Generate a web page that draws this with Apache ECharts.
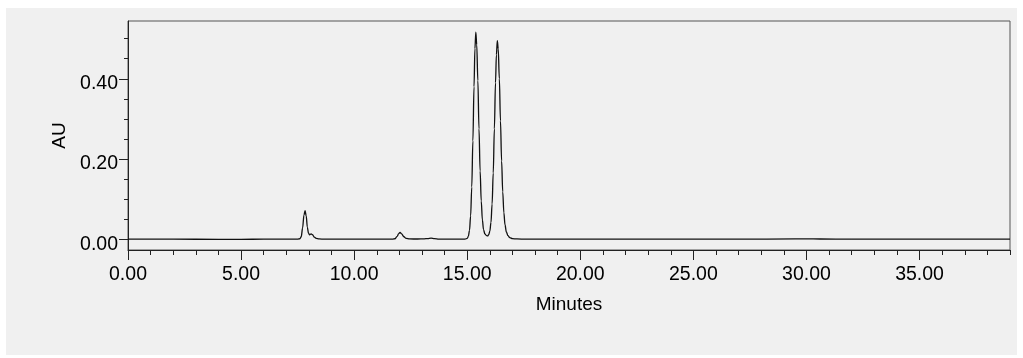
<!DOCTYPE html>
<html>
<head>
<meta charset="utf-8">
<script src="https://cdn.jsdelivr.net/npm/echarts@6/dist/echarts.min.js"></script>
<style>
html,body{margin:0;padding:0;background:#ffffff;width:1023px;height:358px;overflow:hidden;}
#panel{position:absolute;left:6px;top:8px;width:1011px;height:347px;background:#f0f0f0;}
#chart{width:1011px;height:347px;}
</style>
</head>
<body>
<div id="panel"><div id="chart"></div></div>
<script>
// Retention time (minutes)
const minutes = [
  0, 2, 4, 5, 6, 7, 7.5, 7.6, 7.66, 7.72, 7.78, 7.83, 7.88, 7.93, 7.98, 8.03, 8.1, 8.16, 8.24, 8.32, 8.45, 8.7,
  9.5, 10.5, 11.2, 11.7, 11.8, 11.9, 11.97, 12.03, 12.1, 12.2, 12.3, 12.45, 12.8, 13.1, 13.25, 13.4, 13.55, 13.75, 14.1, 14.6,
  14.9, 15.0, 15.05, 15.1, 15.15, 15.2, 15.25, 15.3, 15.34, 15.38, 15.42, 15.47, 15.52, 15.57, 15.62, 15.67, 15.72, 15.78, 15.85, 15.9,
  15.95, 16.0, 16.05, 16.1, 16.15, 16.2, 16.25, 16.29, 16.33, 16.37, 16.42, 16.47, 16.52, 16.57, 16.62, 16.67, 16.73, 16.8, 16.88, 17.0,
  17.2, 17.6, 18.5, 20, 22, 25, 27, 29.5, 30.0, 30.6, 32, 35, 37, 39
];
// Absorbance (AU)
const absorbance = [
  0, 0, -0.0003, -0.0004, 0, 0, 0, 0.001, 0.006, 0.028, 0.06, 0.071, 0.058, 0.03, 0.015, 0.011, 0.013, 0.011, 0.005, 0.002, 0.0005, 0,
  0, 0, 0, 0, 0.001, 0.007, 0.014, 0.0167, 0.013, 0.006, 0.002, 0.0005, 0.0004, 0.0008, 0.0015, 0.0025, 0.0015, 0.0003, 0, 0,
  0, 0.002, 0.007, 0.022, 0.058, 0.13, 0.245, 0.38, 0.475, 0.516, 0.485, 0.395, 0.275, 0.17, 0.095, 0.048, 0.024, 0.013, 0.009, 0.008,
  0.011, 0.02, 0.042, 0.088, 0.165, 0.275, 0.39, 0.46, 0.495, 0.475, 0.4, 0.295, 0.195, 0.118, 0.066, 0.036, 0.018, 0.009, 0.004, 0.0015,
  0.0005, 0.0002, 0, 0, 0.0002, 0, 0.0002, 0.0005, 0.0009, 0.0004, 0, 0.0002, 0, 0
];
const xMajorTicks = [0, 5, 10, 15, 20, 25, 30, 35];
const xMinorTicks = [1,2,3,4,6,7,8,9,11,12,13,14,16,17,18,19,21,22,23,24,26,27,28,29,31,32,33,34,36,37,38,39];
const yMajorTicks = [0, 0.2, 0.4];
const yMinorTicks = [0.05, 0.1, 0.15, 0.25, 0.3, 0.35, 0.45, 0.5];

const FONT = '"Liberation Sans", Arial, sans-serif';
const data = minutes.map((t, i) => [t, absorbance[i]]);

const chart = echarts.init(document.getElementById('chart'), null, {renderer: 'canvas'});
const xBase = {
  type: 'value', min: 0, max: 39, position: 'bottom', gridIndex: 0,
  splitLine: {show: false}, minorTick: {show: false}
};
const yBase = {
  type: 'value', min: -0.027, max: 0.544, position: 'left', gridIndex: 0,
  splitLine: {show: false}, minorTick: {show: false}
};
chart.setOption({
  animation: false,
  backgroundColor: 'transparent',
  grid: {left: 122, top: 13, right: 7, bottom: 105, show: true, borderColor: '#555', borderWidth: 1,
         containLabel: false, outerBoundsMode: 'none'},
  xAxis: [
    Object.assign({}, xBase, {
      name: 'Minutes', nameLocation: 'middle', nameGap: 45,
      nameTextStyle: {fontFamily: FONT, fontSize: 19, color: '#000'},
      axisLine: {show: true, onZero: false, lineStyle: {color: '#222', width: 1}},
      axisTick: {show: true, length: 10, inside: false, customValues: xMajorTicks, lineStyle: {color: '#222'}},
      axisLabel: {show: true, customValues: xMajorTicks, margin: 15, fontFamily: FONT, fontSize: 19.5, color: '#000',
                  formatter: v => v.toFixed(2)}
    }),
    Object.assign({}, xBase, {
      axisLine: {show: false, onZero: false},
      axisTick: {show: true, length: 5, inside: false, customValues: xMinorTicks, lineStyle: {color: '#222'}},
      axisLabel: {show: false}
    })
  ],
  yAxis: [
    Object.assign({}, yBase, {
      name: 'AU', nameLocation: 'middle', nameGap: 56, nameRotate: 90,
      nameTextStyle: {fontFamily: FONT, fontSize: 19, color: '#000'},
      axisLine: {show: true, onZero: false, lineStyle: {color: '#222', width: 1}},
      axisTick: {show: true, length: 9, customValues: yMajorTicks, lineStyle: {color: '#222'}},
      axisLabel: {show: true, customValues: yMajorTicks, margin: 10, fontFamily: FONT, fontSize: 19.5, color: '#000',
                  formatter: v => '{a|' + v.toFixed(2) + '}',
                  rich: {a: {fontFamily: FONT, fontSize: 19.5, color: '#000', padding: [10, 0, 0, 0]}}}
    }),
    Object.assign({}, yBase, {
      axisLine: {show: false, onZero: false},
      axisTick: {show: true, length: 4, customValues: yMinorTicks, lineStyle: {color: '#222'}},
      axisLabel: {show: false}
    })
  ],
  series: [{
    type: 'line', xAxisIndex: 0, yAxisIndex: 0, data: data,
    showSymbol: false, smooth: 0.35, smoothMonotone: 'x',
    lineStyle: {color: '#111', width: 1.3}
  }]
});
</script>
</body>
</html>
